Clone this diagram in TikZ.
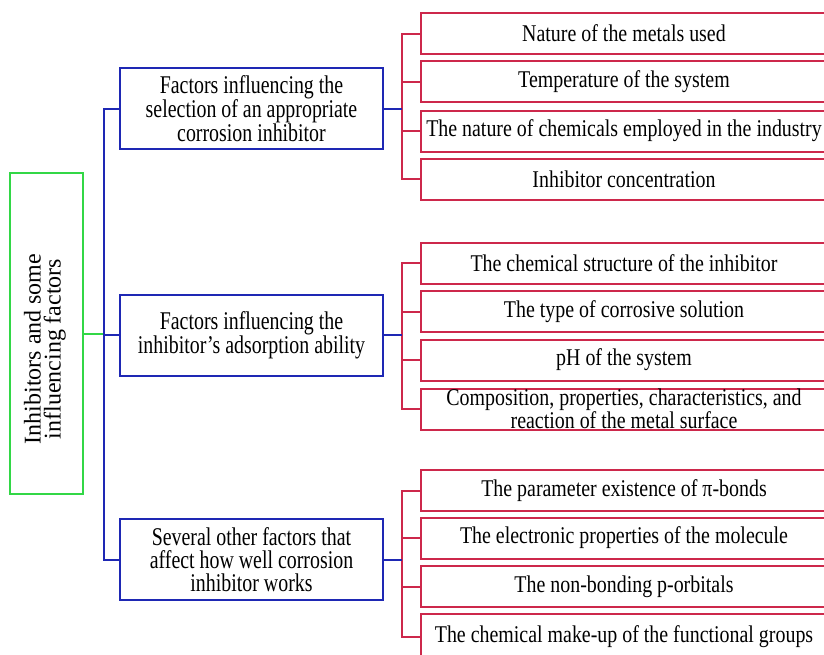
\documentclass[tikz,border=0pt]{standalone}
\usepackage{fontspec}
\setmainfont{Liberation Serif}
\newfontfamily\redf[FakeStretch=0.83]{Liberation Serif}
\newfontfamily\bluef[FakeStretch=0.78]{Liberation Serif}
\newfontfamily\greenf[FakeStretch=1.0]{Liberation Serif}
\definecolor{gcol}{RGB}{50,215,70}
\definecolor{bcol}{RGB}{30,40,180}
\definecolor{rcol}{RGB}{205,40,75}
\tikzset{
  gbox/.style={draw=gcol, line width=2pt, minimum width=73pt, minimum height=321pt, inner sep=0pt},
  gtext/.style={rotate=90, inner sep=0pt, align=center, font=\greenf\fontsize{24}{20}\selectfont},
  bbox/.style={draw=bcol, line width=2pt, minimum width=263pt, minimum height=81pt, inner sep=0pt, align=center, font=\bluef\fontsize{25.5}{23}\selectfont},
  rbox/.style={draw=rcol, line width=2pt, anchor=west, minimum width=406pt, minimum height=41pt, inner sep=0pt, align=center, font=\redf\fontsize{24}{18.5}\selectfont},
  gline/.style={draw=gcol, line width=2pt},
  bline/.style={draw=bcol, line width=2pt},
  rline/.style={draw=rcol, line width=2pt},
}
\begin{document}
\begin{tikzpicture}[x=1pt,y=-1pt]
\clip (0,0) rectangle (824,654);
\fill[white] (0,0) rectangle (824,654);
% root
\node[gbox] (root) at (46.5,333.5) {};
\node[gtext] (roottext) at (45,349) {Inhibitors and some\\influencing factors};
% blue boxes
\node[bbox] (b1) at (251.5,108.5) {Factors influencing the\\selection of an appropriate\\corrosion inhibitor};
\node[bbox] (b2) at (251.5,335) {Factors influencing the\\inhibitor’s adsorption ability};
\node[bbox] (b3) at (251.5,559.5) {Several other factors that\\affect how well corrosion\\inhibitor works};
% red boxes group 1
\node[rbox] (r11) at (420,33.5) {Nature of the metals used};
\node[rbox] (r12) at (420,81.5) {Temperature of the system};
\node[rbox] (r13) at (420,131) {The nature of chemicals employed in the industry};
\node[rbox] (r14) at (420,179) {Inhibitor concentration};
% group 2
\node[rbox] (r21) at (420,263) {The chemical structure of the inhibitor};
\node[rbox] (r22) at (420,311.5) {The type of corrosive solution};
\node[rbox] (r23) at (420,360) {pH of the system};
\node[rbox] (r24) at (420,409) {Composition, properties, characteristics, and\\reaction of the metal surface};
% group 3
\node[rbox] (r31) at (420,490.5) {The parameter existence of π-bonds};
\node[rbox] (r32) at (420,538) {The electronic properties of the molecule};
\node[rbox] (r33) at (420,586.5) {The non-bonding p-orbitals};
\node[rbox, minimum height=46pt] (r34) at (420,637) {The chemical make-up of the functional groups};
% coordinates on the trunk
\coordinate (t1) at (104,108.5);
\coordinate (tg) at (104,333.5);
\coordinate (t2) at (104,335);
\coordinate (t3) at (104,559.5);
% green to trunk
\draw[gline] (root.east) -- (tg);
% blue trunk
\draw[bline] (b1.west) -- (t1) -- (t3) -- (b3.west);
\draw[bline] (b2.west) -- (t2);
% red combs
\foreach \g in {1,2,3}{
  \draw[rline] (r\g1.west) -- ++(-18,0) |- (r\g4.west);
  \draw[rline] (r\g2.west) -- ++(-18,0);
  \draw[rline] (r\g3.west) -- ++(-18,0);
}
\draw[bline] (b1.east) -- ([xshift=-18pt]r11.west |- b1.east);
\draw[bline] (b2.east) -- ([xshift=-18pt]r21.west |- b2.east);
\draw[bline] (b3.east) -- ([xshift=-18pt]r31.west |- b3.east);
\end{tikzpicture}
\end{document}
